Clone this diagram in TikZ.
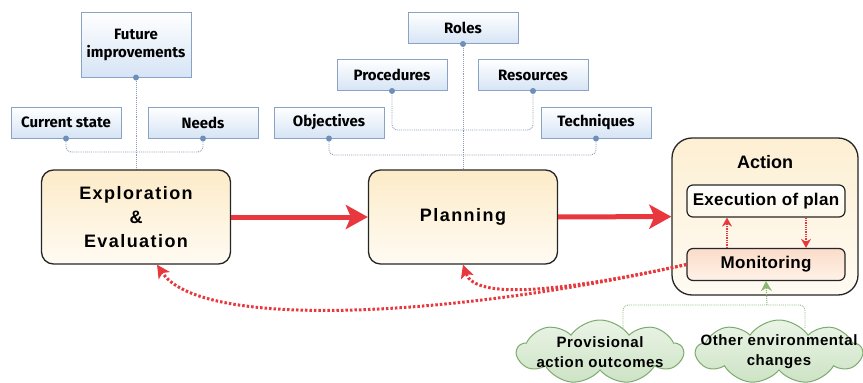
\documentclass[tikz,border=0pt]{standalone}
\usepackage{fontspec}
\setmainfont{Liberation Sans}
\newfontfamily\sketchfont{Fira Sans}
\usetikzlibrary{shapes, shapes.symbols, arrows.meta, positioning, calc, backgrounds}
\definecolor{boxBlueLine}{HTML}{8AA2C4}
\definecolor{boxBlueFill}{HTML}{D6E4F5}
\definecolor{dotBlue}{HTML}{6E8FBA}
\definecolor{connGray}{HTML}{8C9BB0}
\definecolor{mainTop}{HTML}{FCEBC8}
\definecolor{mainBottom}{HTML}{FFFBF3}
\definecolor{alertRed}{HTML}{E8383D}
\definecolor{monTop}{HTML}{FADCC8}
\definecolor{monBottom}{HTML}{FFF2E9}
\definecolor{cloudTop}{HTML}{EAF4E6}
\definecolor{cloudBottom}{HTML}{CDE3C5}
\definecolor{cloudLine}{HTML}{7DAA6E}
\definecolor{greenArrow}{HTML}{8CB673}

\begin{document}
\begin{tikzpicture}[x=1pt, y=-1pt,
    bluebox/.style={draw=boxBlueLine, line width=1pt, top color=white, bottom color=boxBlueFill,
        font=\sketchfont\bfseries\fontsize{15}{18}\selectfont, minimum width=110pt, minimum height=31pt,
        inner sep=0pt, align=center},
    mainbox/.style={draw=black!85, line width=1.3pt, rounded corners=12pt, top color=mainTop,
        bottom color=mainBottom, font=\bfseries\fontsize{18}{24}\selectfont\addfontfeatures{LetterSpace=8},
        minimum width=189pt, minimum height=94pt, align=center},
    innerbox/.style={draw=black!85, line width=1.2pt, rounded corners=6pt, minimum width=158pt,
        minimum height=32pt, font=\bfseries\fontsize{17}{20}\selectfont\addfontfeatures{LetterSpace=2}, inner sep=0pt},
    cloudbox/.style={cloud, cloud puffs=9, cloud puff arc=110, cloud ignores aspect, draw=cloudLine,
        line width=1pt, top color=cloudTop, bottom color=cloudBottom, minimum width=166pt,
        minimum height=64pt, inner sep=0pt},
    cloudtext/.style={font=\bfseries\fontsize{15}{20}\selectfont\addfontfeatures{LetterSpace=4}, align=center},
    conn/.style={connGray, line width=0.9pt, densely dotted, rounded corners=5pt},
    bigArrow/.style={alertRed, line width=5pt, -{Stealth[length=22pt, width=24pt, inset=5pt]}},
    backArrow/.style={alertRed, line width=3pt, dash pattern=on 2.5pt off 2pt,
        -{Stealth[length=13pt, width=13pt, inset=3pt]}},
    smallRed/.style={alertRed, line width=1.3pt, densely dotted, -{Stealth[length=9pt, width=10pt]}}]
    \useasboundingbox (0,0) rectangle (863,383);

    % Exploration side
    \node[bluebox, minimum height=65pt] (fut) at (136,44.5) {Future\\improvements};
    \node[bluebox] (cur) at (66,122.5) {Current state};
    \node[bluebox] (need) at (203,122.5) {Needs};
    \node[mainbox] (expl) at (136,217) {Exploration\\\&\\Evaluation};

    % Planning side
    \node[bluebox] (role) at (463,28) {Roles};
    \node[bluebox] (proc) at (392,75) {Procedures};
    \node[bluebox] (res) at (533,75) {Resources};
    \node[bluebox] (obj) at (329,122.5) {Objectives};
    \node[bluebox] (tech) at (596,122.5) {Techniques};
    \node[mainbox] (plan) at (463,217) {Planning};

    % Action
    \node[draw=black!85, line width=1.3pt, rounded corners=20pt, top color=mainTop!80,
        bottom color=mainBottom, minimum width=186pt, minimum height=157pt] (act) at (765,216.5) {};
    \node[font=\bfseries\fontsize{18}{22}\selectfont] (actTitle) at (765,162) {Action};
    \node[innerbox, top color=white, bottom color=mainTop!40] (exe) at (766,201) {Execution of plan};
    \node[innerbox, top color=monTop, bottom color=monBottom] (mon) at (766,264.5) {Monitoring};

    % Environment
    \node[cloudbox] (prov) at (600,352) {};
    \node[cloudtext] (provText) at (prov) {Provisional\\action outcomes};
    \node[cloudbox] (other) at (779,352) {};
    \node[cloudtext] (otherText) at (other) {Other environmental\\changes};

    % Dotted links
    \coordinate (expJoin) at (136,152);
    \coordinate (planJoinA) at (463,130);
    \coordinate (planJoinB) at (463,155);
    \coordinate (envJoin) at (767,305);
    \coordinate (provTop) at (623,328);
    \coordinate (otherTop) at (805,328);
    \begin{scope}[on background layer]
        \draw[conn] (fut.south) -- (expl.north);
        \draw[conn] (cur.south) |- (expJoin);
        \draw[conn] (need.south) |- (expJoin);
        \draw[conn] (role.south) -- (plan.north);
        \draw[conn] (proc.south) |- (planJoinA);
        \draw[conn] (res.south) |- (planJoinA);
        \draw[conn] (obj.south) |- (planJoinB);
        \draw[conn] (tech.south) |- (planJoinB);
        \draw[greenArrow, line width=0.9pt, densely dotted, rounded corners=5pt] (provTop) |- (envJoin);
        \draw[greenArrow, line width=0.9pt, densely dotted, rounded corners=5pt] (otherTop) |- (envJoin);
    \end{scope}
    \foreach \n in {fut, cur, need, role, proc, res, obj, tech}
        \fill[dotBlue] (\n.south) circle (3pt);

    % Main flow
    \draw[bigArrow] (expl) -- (plan);
    \draw[bigArrow] (plan) -- (act);

    % Inside action
    \draw[smallRed] ([xshift=-39pt]mon.north) -- ([xshift=-39pt]exe.south);
    \draw[smallRed] ([xshift=40pt]exe.south) -- ([xshift=40pt]mon.north);
    \draw[greenArrow, line width=1pt, densely dotted, -{Stealth[length=10pt, width=11pt]}] (envJoin) -- (mon.south);

    % Feedback
    \draw[backArrow] (mon.west) .. controls (450,318) and (200,330) .. ([xshift=21pt]expl.south);
    \draw[backArrow] (mon.west) .. controls (560,292) and (475,300) .. (plan.south);
\end{tikzpicture}
\end{document}
